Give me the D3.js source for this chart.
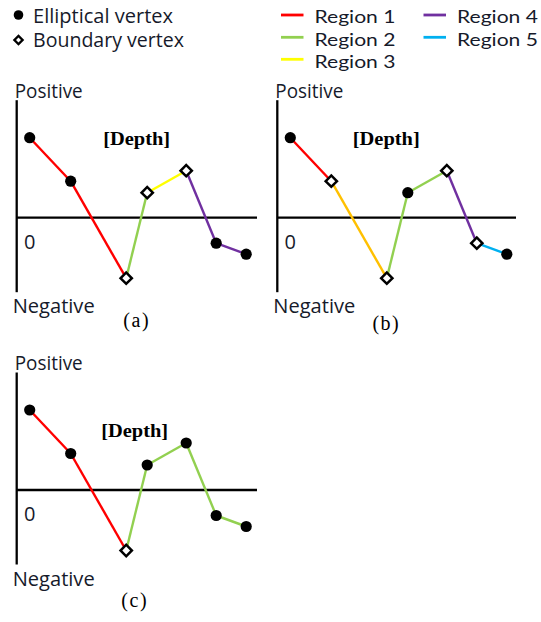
<!DOCTYPE html>
<html>
<head>
<meta charset="utf-8">
<script src="https://cdn.jsdelivr.net/npm/d3@7"></script>
<style>
  html, body { margin: 0; padding: 0; background: #fff; }
  svg { display: block; }
</style>
</head>
<body>
<svg id="chart" width="541" height="622"></svg>
<script>
// ---------------- data ----------------
const regionNames = ["Region 1", "Region 2", "Region 3", "Region 4", "Region 5"];
const regionColors = ["#ff0000", "#92d050", "#ffff00", "#7030a0", "#00b0f0"];
const vertexLegend = ["Elliptical vertex", "Boundary vertex"];

// Position along the profile and signed depth for the 7 vertices
const positions = [13, 54, 109.5, 130.5, 169.5, 199.5, 229.5];
const depths = [80, 36.5, -60.5, 25, 47, -25.5, -36.5];

const panelNames = ["(a)", "(b)", "(c)"];
// vertex types: E = elliptical, B = boundary
const vertexTypesA = ["E", "E", "B", "B", "B", "E", "E"];
const vertexTypesB = ["E", "B", "B", "E", "B", "B", "E"];
const vertexTypesC = ["E", "E", "B", "E", "E", "E", "E"];
// segment colours (between successive vertices)
const segmentColorsA = ["#ff0000", "#ff0000", "#92d050", "#ffff00", "#7030a0", "#7030a0"];
const segmentColorsB = ["#ff0000", "#ffc000", "#92d050", "#92d050", "#7030a0", "#00b0f0"];
const segmentColorsC = ["#ff0000", "#ff0000", "#92d050", "#92d050", "#92d050", "#92d050"];

const axisLabels = ["Positive", "Negative", "0", "[Depth]"];

// ---------------- layout ----------------
const svg = d3.select("#chart");
const sansFont = "'Open Sans', 'Noto Sans', sans-serif";
const legendFont = "Lato, 'Open Sans', sans-serif";
const serifFont = "'Liberation Serif', 'DejaVu Serif', serif";
const textColor = "#161a2a";

const panels = [
  { name: panelNames[0], types: vertexTypesA, segs: segmentColorsA, ox: 16.7, oy: 217.7, xEnd: 257, depthY: -79, depthX: 120, capX: 120, capY: 103 },
  { name: panelNames[1], types: vertexTypesB, segs: segmentColorsB, ox: 277.3, oy: 217.7, xEnd: 516, depthY: -79, depthX: 109, capX: 109, capY: 106 },
  { name: panelNames[2], types: vertexTypesC, segs: segmentColorsC, ox: 16.7, oy: 490, xEnd: 257, depthY: -60, depthX: 118, capX: 118, capY: 111 }
];

panels.forEach(p => {
  const g = svg.append("g");
  const x = d3.scaleLinear().domain([0, 240]).range([p.ox, p.ox + 240]);
  const y = d3.scaleLinear().domain([-74.5, 117.5]).range([p.oy + 74.5, p.oy - 117.5]);

  // axes
  g.append("line").attr("x1", x(0)).attr("x2", x(0))
    .attr("y1", y(117.5)).attr("y2", y(-74.5))
    .attr("stroke", "#000").attr("stroke-width", 2.3);
  g.append("line").attr("x1", x(0)).attr("x2", p.xEnd)
    .attr("y1", y(0)).attr("y2", y(0))
    .attr("stroke", "#000").attr("stroke-width", 2.3);

  // axis labels
  g.append("text").attr("x", x(0) - 2).attr("y", y(117.5) - 2.5)
    .attr("font-family", sansFont).attr("font-size", 20).attr("fill", textColor)
    .attr("textLength", 68).attr("lengthAdjust", "spacingAndGlyphs")
    .text(axisLabels[0]);
  g.append("text").attr("x", x(0) - 4).attr("y", y(-74.5) + 21)
    .attr("font-family", sansFont).attr("font-size", 20).attr("fill", textColor)
    .attr("textLength", 82).attr("lengthAdjust", "spacingAndGlyphs")
    .text(axisLabels[1]);
  g.append("text").attr("x", x(0) + 13).attr("y", y(0) + 31)
    .attr("text-anchor", "middle")
    .attr("font-family", sansFont).attr("font-size", 20).attr("fill", textColor)
    .text(axisLabels[2]);
  g.append("text").attr("x", x(0) + p.depthX).attr("y", p.oy + p.depthY + 6.5)
    .attr("text-anchor", "middle")
    .attr("font-family", serifFont).attr("font-size", 18).attr("font-weight", "bold")
    .attr("fill", "#000")
    .attr("textLength", 67).attr("lengthAdjust", "spacingAndGlyphs")
    .text(axisLabels[3]);
  g.append("text").attr("x", x(0) + p.capX).attr("y", p.oy + p.capY + 6)
    .attr("text-anchor", "middle")
    .attr("font-family", serifFont).attr("font-size", 20).attr("font-weight", "normal")
    .attr("fill", "#000")
    .attr("letter-spacing", 1.5)
    .text(p.name);

  // segments
  const pts = positions.map((v, i) => ({ x: x(v), y: y(depths[i]), t: p.types[i] }));
  const segs = p.segs.map((c, i) => ({ a: pts[i], b: pts[i + 1], c }));
  g.selectAll("line.seg").data(segs).join("line").attr("class", "seg")
    .attr("x1", d => d.a.x).attr("y1", d => d.a.y)
    .attr("x2", d => d.b.x).attr("y2", d => d.b.y)
    .attr("stroke", d => d.c).attr("stroke-width", 2.4);

  // vertices
  g.selectAll("circle.ev").data(pts.filter(d => d.t === "E")).join("circle").attr("class", "ev")
    .attr("cx", d => d.x).attr("cy", d => d.y).attr("r", 5.6).attr("fill", "#000");
  const diamond = d3.symbol().type(d3.symbolSquare).size(64);
  g.selectAll("path.bv").data(pts.filter(d => d.t === "B")).join("path").attr("class", "bv")
    .attr("d", diamond)
    .attr("transform", d => `translate(${d.x},${d.y}) rotate(45)`)
    .attr("fill", "#fff").attr("stroke", "#000").attr("stroke-width", 2.5);
});

// ---------------- legends ----------------
const lv = svg.append("g");
lv.append("circle").attr("cx", 18.5).attr("cy", 15).attr("r", 4.8).attr("fill", "#000");
lv.append("path").attr("d", d3.symbol().type(d3.symbolSquare).size(34))
  .attr("transform", "translate(18.5,40) rotate(45)")
  .attr("fill", "#fff").attr("stroke", "#000").attr("stroke-width", 2.3);
const vertexLegendWidths = [140, 151];
lv.selectAll("text").data(vertexLegend).join("text")
  .attr("x", 33).attr("y", (d, i) => 22.5 + i * 24.5)
  .attr("font-family", sansFont).attr("font-size", 20).attr("fill", textColor)
  .attr("textLength", (d, i) => vertexLegendWidths[i]).attr("lengthAdjust", "spacingAndGlyphs")
  .text(d => d);

const lr = svg.append("g");
const legendPos = [
  { x: 281, y: 15 }, { x: 281, y: 37.3 }, { x: 281, y: 59.3 },
  { x: 423.5, y: 15 }, { x: 423.5, y: 37.3 }
];
regionNames.forEach((name, i) => {
  const pos = legendPos[i];
  lr.append("line").attr("x1", pos.x).attr("x2", pos.x + 22.5)
    .attr("y1", pos.y).attr("y2", pos.y)
    .attr("stroke", regionColors[i]).attr("stroke-width", 2.8);
  lr.append("text").attr("x", pos.x + 33.5).attr("y", pos.y + 8.3)
    .attr("font-family", legendFont).attr("font-size", 18).attr("fill", textColor)
    .attr("textLength", 81).attr("lengthAdjust", "spacingAndGlyphs")
    .text(name);
});
</script>
</body>
</html>
